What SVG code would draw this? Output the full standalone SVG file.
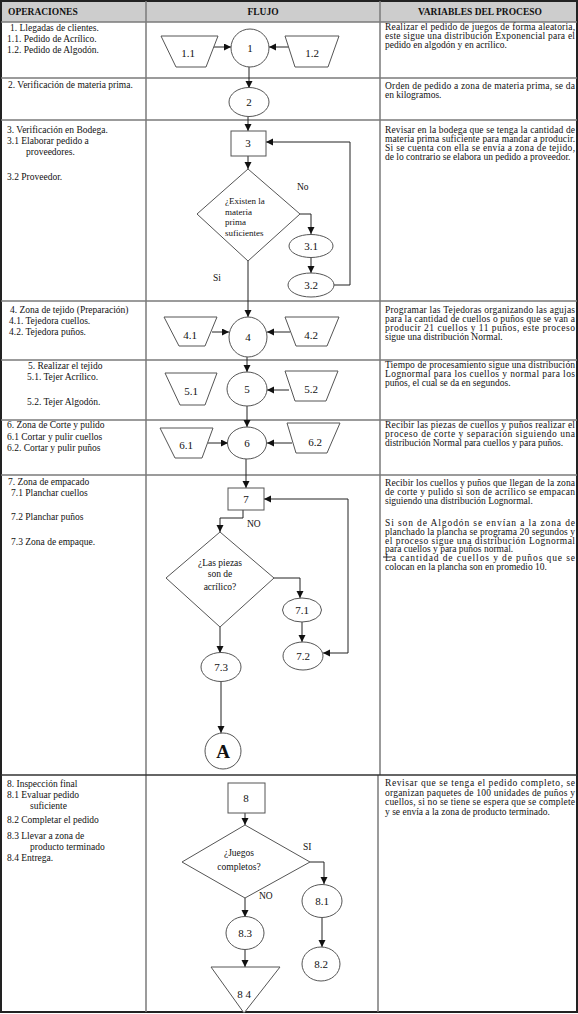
<svg xmlns="http://www.w3.org/2000/svg" width="578" height="1014" viewBox="0 0 578 1014">
<style>
.grid{stroke:#7a7a7a;stroke-width:1.5;fill:none}
.sh{fill:#fff;stroke:#555;stroke-width:1}
.cn{fill:none;stroke:#222;stroke-width:1;marker-end:url(#ah)}
.ln{fill:none;stroke:#222;stroke-width:1}
text{font-family:"Liberation Serif","Times New Roman",serif;fill:#111}
.h{font-size:9.5px;font-weight:bold}
.t{font-size:9.5px}
.r{font-size:9.5px}
.n{font-size:11px;text-anchor:middle}
.d{font-size:9px}
.dc{font-size:9.5px;text-anchor:middle}
.lb{font-size:9.5px}
</style>
<defs>
<marker id="ah" markerUnits="userSpaceOnUse" markerWidth="8" markerHeight="8" refX="7" refY="3.5" orient="auto-start-reverse">
<path d="M0,0 L7,3.5 L0,7 z" fill="#111"/>
</marker>
</defs>

<g id="table">
<rect x="1" y="1" width="576" height="21" fill="#cdcdcd"/>
<rect x="1" y="1" width="576" height="1011" fill="none" stroke="#222" stroke-width="2"/>
<line class="grid" x1="146" y1="1" x2="146" y2="1012"/>
<line class="grid" x1="380" y1="1" x2="380" y2="775"/>
<line class="grid" x1="378" y1="775" x2="378" y2="1012"/>
<line class="grid" x1="1" y1="22" x2="577" y2="22"/>
<line class="grid" x1="1" y1="78" x2="577" y2="78"/>
<line class="grid" x1="1" y1="120" x2="577" y2="120"/>
<line class="grid" x1="1" y1="301" x2="577" y2="301"/>
<line class="grid" x1="1" y1="360" x2="577" y2="360"/>
<line class="grid" x1="1" y1="420" x2="577" y2="420"/>
<line class="grid" x1="1" y1="475" x2="577" y2="475"/>
<line x1="1" y1="775" x2="577" y2="775" stroke="#333" stroke-width="1.5"/>
<text class="h" x="8" y="15">OPERACIONES</text>
<text class="h" x="263" y="15" text-anchor="middle">FLUJO</text>
<text class="h" x="480" y="15" text-anchor="middle">VARIABLES DEL PROCESO</text>
</g>

<g id="operaciones">
<text class="t" x="10" y="31">1. Llegadas de clientes.</text>
<text class="t" x="7" y="42">1.1. Pedido de Acrílico.</text>
<text class="t" x="7" y="53">1.2. Pedido de Algodón.</text>
<text class="t" x="8" y="88">2. Verificación de materia prima.</text>
<text class="t" x="7" y="133">3. Verificación en Bodega.</text>
<text class="t" x="7" y="144">3.1 Elaborar pedido a</text>
<text class="t" x="26" y="155">proveedores.</text>
<text class="t" x="7" y="180">3.2 Proveedor.</text>
<text class="t" x="10" y="313">4. Zona de tejido (Preparación)</text>
<text class="t" x="9" y="324">4.1. Tejedora cuellos.</text>
<text class="t" x="9" y="335">4.2. Tejedora puños.</text>
<text class="t" x="28" y="369">5.   Realizar el tejido</text>
<text class="t" x="27" y="380">5.1. Tejer Acrílico.</text>
<text class="t" x="27" y="405">5.2. Tejer Algodón.</text>
<text class="t" x="7" y="428">6. Zona de Corte y pulido</text>
<text class="t" x="7" y="440">6.1 Cortar y pulir cuellos</text>
<text class="t" x="7" y="451">6.2. Cortar y pulir puños</text>
<text class="t" x="8" y="485">7. Zona de empacado</text>
<text class="t" x="11" y="496">7.1 Planchar cuellos</text>
<text class="t" x="11" y="520">7.2 Planchar puños</text>
<text class="t" x="11" y="545">7.3 Zona de empaque.</text>
<text class="t" x="7" y="787">8. Inspección final</text>
<text class="t" x="7" y="798">8.1 Evaluar pedido</text>
<text class="t" x="30" y="809">suficiente</text>
<text class="t" x="7" y="823">8.2 Completar el pedido</text>
<text class="t" x="7" y="839">8.3 Llevar a zona de</text>
<text class="t" x="30" y="850">producto terminado</text>
<text class="t" x="7" y="861">8.4 Entrega.</text>
</g>

<g id="variables">
<text class="r" x="385" y="30" textLength="190" lengthAdjust="spacing">Realizar el pedido de juegos de forma aleatoria,</text>
<text class="r" x="385" y="39" textLength="190" lengthAdjust="spacing">este sigue una distribución Exponencial para el</text>
<text class="r" x="385" y="48">pedido en algodón y en acrílico.</text>
<text class="r" x="385" y="89" textLength="190" lengthAdjust="spacing">Orden de pedido a zona de materia prima, se da</text>
<text class="r" x="385" y="98">en kilogramos.</text>
<text class="r" x="385" y="133" textLength="190" lengthAdjust="spacing">Revisar en la bodega que se tenga la cantidad de</text>
<text class="r" x="385" y="142" textLength="190" lengthAdjust="spacing">materia prima suficiente para mandar a producir.</text>
<text class="r" x="385" y="151" textLength="190" lengthAdjust="spacing">Si se cuenta con ella se envía a zona de tejido,</text>
<text class="r" x="385" y="160">de lo contrario se elabora un pedido a proveedor.</text>
<text class="r" x="385" y="313" textLength="190" lengthAdjust="spacing">Programar las Tejedoras organizando las agujas</text>
<text class="r" x="385" y="322" textLength="190" lengthAdjust="spacing">para la cantidad de cuellos o puños que se van a</text>
<text class="r" x="385" y="331" textLength="190" lengthAdjust="spacing">producir 21 cuellos y 11 puños, este proceso</text>
<text class="r" x="385" y="340">sigue una distribución Normal.</text>
<text class="r" x="385" y="368" textLength="190" lengthAdjust="spacing">Tiempo de procesamiento sigue una distribución</text>
<text class="r" x="385" y="377" textLength="190" lengthAdjust="spacing">Lognormal para los cuellos y normal para los</text>
<text class="r" x="385" y="386">puños, el cual se da en segundos.</text>
<text class="r" x="385" y="428" textLength="190" lengthAdjust="spacing">Recibir las piezas de cuellos y puños realizar el</text>
<text class="r" x="385" y="437" textLength="190" lengthAdjust="spacing">proceso de corte y separación siguiendo una</text>
<text class="r" x="385" y="446">distribución Normal para cuellos y para puños.</text>
<text class="r" x="385" y="486" textLength="190" lengthAdjust="spacing">Recibir los cuellos y puños que llegan de la zona</text>
<text class="r" x="385" y="495" textLength="190" lengthAdjust="spacing">de corte y pulido si son de acrílico se empacan</text>
<text class="r" x="385" y="504">siguiendo una distribución Lognormal.</text>
<text class="r" x="385" y="526" textLength="190" lengthAdjust="spacing">Si son de Algodón se envían a la zona de</text>
<text class="r" x="385" y="535" textLength="190" lengthAdjust="spacing">planchado la plancha se programa 20 segundos y</text>
<text class="r" x="385" y="544" textLength="190" lengthAdjust="spacing">el proceso sigue una distribución Lognormal</text>
<text class="r" x="385" y="552">para cuellos y para puños normal.</text>
<text class="r" x="385" y="561" textLength="190" lengthAdjust="spacing">La cantidad de cuellos y de puños que se</text>
<text class="r" x="385" y="570">colocan en la plancha son en promedio 10.</text>
<line class="ln" x1="383" y1="557" x2="392" y2="557"/>
<text class="r" x="385" y="786" textLength="190" lengthAdjust="spacing">Revisar que se tenga el pedido completo, se</text>
<text class="r" x="385" y="796" textLength="190" lengthAdjust="spacing">organizan paquetes de 100 unidades de puños y</text>
<text class="r" x="385" y="805" textLength="190" lengthAdjust="spacing">cuellos, si no se tiene se espera que se complete</text>
<text class="r" x="385" y="815">y se envía a la zona de producto terminado.</text>
</g>

<g id="connectors">
<line class="cn" x1="213" y1="47" x2="231" y2="47"/>
<line class="cn" x1="289" y1="47" x2="269" y2="47"/>
<line class="cn" x1="249" y1="67" x2="249" y2="88"/>
<line class="cn" x1="248" y1="117" x2="248" y2="131"/>
<line class="cn" x1="248" y1="156" x2="248" y2="169"/>
<polyline class="cn" points="300,214 311,214 311,234"/>
<line class="cn" x1="311" y1="258" x2="311" y2="273"/>
<polyline class="cn" points="334,285 350,285 350,142 266,142"/>
<line class="cn" x1="248" y1="261" x2="248" y2="317"/>
<line class="cn" x1="212" y1="332" x2="229" y2="332"/>
<line class="cn" x1="290" y1="332" x2="267" y2="332"/>
<line class="cn" x1="247" y1="357" x2="247" y2="372"/>
<line class="cn" x1="289" y1="390" x2="267" y2="390"/>
<line class="cn" x1="247" y1="406" x2="247" y2="427"/>
<line class="cn" x1="208" y1="443" x2="228" y2="443"/>
<line class="cn" x1="292" y1="443" x2="267" y2="443"/>
<line class="cn" x1="246" y1="459" x2="246" y2="488"/>
<path class="cn" d="M264,499 H348 V653 H323" marker-start="url(#ah)"/>
<polyline class="cn" points="243,510 243,518 220,518 220,532"/>
<polyline class="cn" points="274,578 300,578 300,598"/>
<line class="cn" x1="302" y1="622" x2="302" y2="642"/>
<line class="cn" x1="220" y1="627" x2="220" y2="653"/>
<line class="cn" x1="221" y1="682" x2="221" y2="733"/>
<line class="cn" x1="245" y1="813" x2="245" y2="825"/>
<polyline class="cn" points="310,862 324,862 324,884"/>
<line class="cn" x1="322" y1="918" x2="322" y2="947"/>
<line class="cn" x1="245" y1="898" x2="245" y2="917"/>
<line class="cn" x1="245" y1="950" x2="245" y2="967"/>
<text class="lb" x="297" y="190">No</text>
<text class="lb" x="213" y="281">Si</text>
<text class="lb" x="247" y="527">NO</text>
<text class="lb" x="303" y="850">SI</text>
<text class="lb" x="259" y="899">NO</text>
</g>

<g id="n1"><circle class="sh" cx="250" cy="48" r="19"/><text class="n" x="250" y="52">1</text></g>
<g id="n1_1"><polygon class="sh" points="161,36 218,36 206,67 176,67"/><text class="n" x="188" y="57">1.1</text></g>
<g id="n1_2"><polygon class="sh" points="285,36 339,36 328,67 295,67"/><text class="n" x="312" y="57">1.2</text></g>
<g id="n2"><ellipse class="sh" cx="249" cy="102" rx="20" ry="14.5"/><text class="n" x="249" y="106">2</text></g>
<g id="n3"><rect class="sh" x="231" y="131" width="35" height="25"/><text class="n" x="248" y="147">3</text></g>
<g id="d3"><polygon class="sh" points="248,169 300,214 248,261 197,214"/>
<text class="d" x="225" y="204">¿Existen la</text><text class="d" x="225" y="215">materia</text><text class="d" x="225" y="225">prima</text><text class="d" x="225" y="236">suficientes</text></g>
<g id="n3_1"><ellipse class="sh" cx="311" cy="246" rx="22" ry="11.5"/><text class="n" x="311" y="250">3.1</text></g>
<g id="n3_2"><ellipse class="sh" cx="311" cy="285" rx="23" ry="12"/><text class="n" x="311" y="289">3.2</text></g>
<g id="n4"><ellipse class="sh" cx="248" cy="337" rx="19" ry="20"/><text class="n" x="248" y="341">4</text></g>
<g id="n4_1"><polygon class="sh" points="164,317 217,317 205,346 179,346"/><text class="n" x="190" y="339">4.1</text></g>
<g id="n4_2"><polygon class="sh" points="285,317 339,317 327,346 296,346"/><text class="n" x="311" y="339">4.2</text></g>
<g id="n5"><ellipse class="sh" cx="247" cy="389" rx="20" ry="17"/><text class="n" x="247" y="393">5</text></g>
<g id="n5_1"><polygon class="sh" points="165,373 217,373 205,405 180,405"/><text class="n" x="191" y="395">5.1</text></g>
<g id="n5_2"><polygon class="sh" points="285,371 338,371 326,401 295,401"/><text class="n" x="311" y="393">5.2</text></g>
<g id="n6"><ellipse class="sh" cx="247" cy="443" rx="19.5" ry="16"/><text class="n" x="247" y="447">6</text></g>
<g id="n6_1"><polygon class="sh" points="160,428 213,428 202,458 175,458"/><text class="n" x="186" y="449">6.1</text></g>
<g id="n6_2"><polygon class="sh" points="287,423 340,423 327,453 296,453"/><text class="n" x="315" y="446">6.2</text></g>
<g id="n7"><rect class="sh" x="228" y="488" width="36" height="22"/><text class="n" x="246" y="503">7</text></g>
<g id="d7"><polygon class="sh" points="220,532 274,578 220,627 166,578"/>
<text class="dc" x="220" y="566">¿Las piezas</text><text class="dc" x="220" y="577">son de</text><text class="dc" x="220" y="590">acrílico?</text></g>
<g id="n7_1"><ellipse class="sh" cx="302" cy="610" rx="19.5" ry="12"/><text class="n" x="302" y="614">7.1</text></g>
<g id="n7_2"><ellipse class="sh" cx="303" cy="656" rx="20" ry="14"/><text class="n" x="303" y="660">7.2</text></g>
<g id="n7_3"><ellipse class="sh" cx="221" cy="667" rx="20" ry="14.5"/><text class="n" x="221" y="671">7.3</text></g>
<g id="nA"><circle class="sh" cx="223" cy="751" r="18"/><text x="223" y="758" text-anchor="middle" font-size="19" font-weight="bold">A</text></g>
<g id="n8"><rect class="sh" x="228" y="783" width="37" height="30"/><text class="n" x="246" y="802">8</text></g>
<g id="d8"><polygon class="sh" points="245,825 310,862 245,898 182,862"/>
<text class="dc" x="239" y="856">¿Juegos</text><text class="dc" x="239" y="870">completos?</text></g>
<g id="n8_1"><ellipse class="sh" cx="322" cy="901" rx="20" ry="16.5"/><text class="n" x="322" y="905">8.1</text></g>
<g id="n8_2"><ellipse class="sh" cx="321" cy="964" rx="19" ry="17"/><text class="n" x="321" y="968">8.2</text></g>
<g id="n8_3"><ellipse class="sh" cx="245" cy="933" rx="19" ry="16.5"/><text class="n" x="245" y="937">8.3</text></g>
<g id="n8_4"><polygon class="sh" points="211,967 280,967 244,1013"/><text class="n" x="244" y="998">8 4</text></g>
</svg>
